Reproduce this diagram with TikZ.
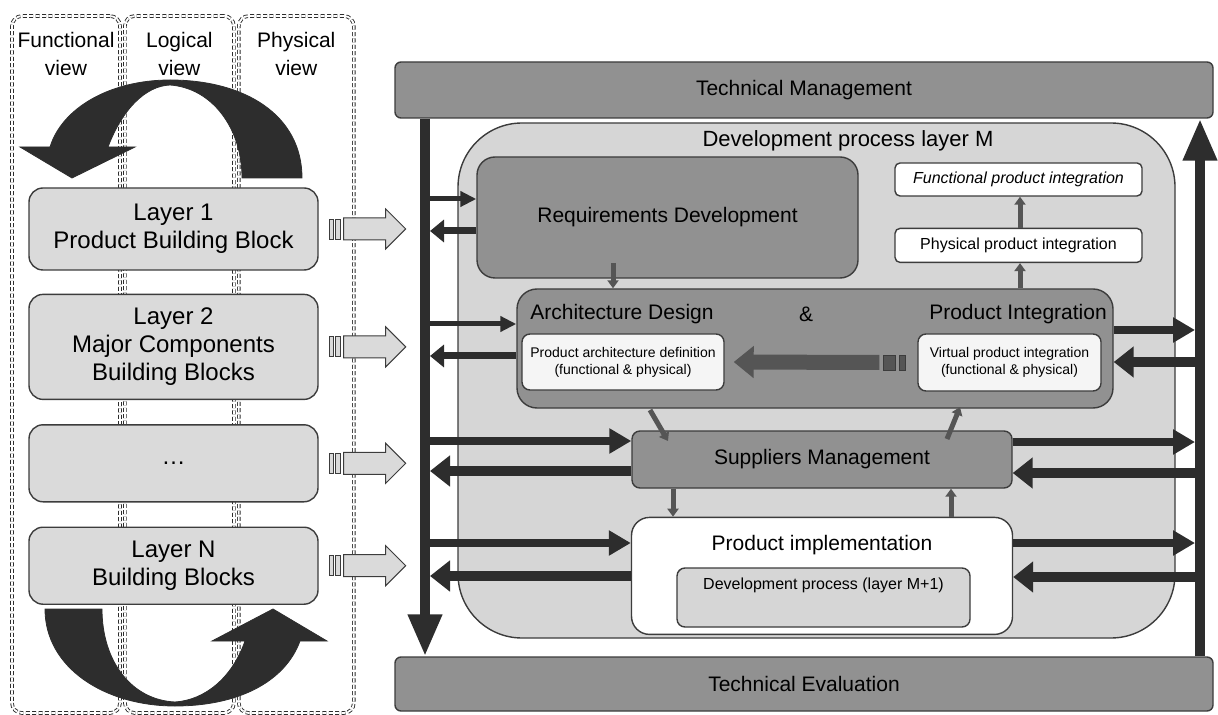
\documentclass[tikz,border=0pt]{standalone}
\usepackage{fontspec}
\setmainfont{Liberation Sans}
\usepackage{tikz}
\usetikzlibrary{arrows.meta}
\usetikzlibrary{positioning}
\definecolor{cbdark}{RGB}{45,45,45}
\definecolor{cbmid}{RGB}{85,85,85}
\definecolor{cbgray}{RGB}{145,145,145}
\definecolor{cbpanel}{RGB}{214,214,214}
\definecolor{cblight}{RGB}{218,218,218}
\definecolor{cbline}{RGB}{60,60,60}

\begin{document}
\begin{tikzpicture}[%
    x=0.5pt, y=-0.5pt,   % one unit is one pixel of the sketch, y goes down
    node distance=12pt,  % gap between the layer boxes
    ]
% -------------------------------------------------
% Box and arrow styles
\tikzset{
  base/.style={draw=cbline, line width=0.7pt, align=center, inner sep=0pt},
  mgmt/.style={base, fill=cbgray, rounded corners=3pt, minimum width=409pt, font=\fontsize{10.5}{12}\selectfont},
  procbox/.style={base, fill=cbgray, font=\fontsize{10.5}{12}\selectfont},
  whitebox/.style={base, fill=white, rounded corners=2.5pt, minimum width=123.5pt, font=\fontsize{8}{9.6}\selectfont},
  defbox/.style={base, fill=black!4, rounded corners=4pt, font=\fontsize{7}{8.6}\selectfont},
  layer/.style={base, fill=cblight, rounded corners=7pt, minimum width=144.5pt, font=\fontsize{12}{14}\selectfont},
  view/.style={draw=cbdark, line width=0.45pt, double=white, double distance=0.9pt, dash pattern=on 2pt off 1.2pt, rounded corners=5pt, minimum height=348.5pt, inner sep=0pt},
  txt/.style={draw=none, fill=none, align=center, inner sep=0pt},
  lbl/.style={txt, font=\fontsize{10.5}{12}\selectfont},
  % -------------------------------------------------
  shaft/.style={-{Triangle[length=21pt,width=16pt]}, line width=5pt, draw=cbdark},
  feed/.style={-{Triangle[length=11pt,width=12pt]}, line width=4pt, draw=cbdark},
  back/.style={-{Triangle[length=10pt,width=15pt]}, line width=5pt, draw=cbdark},
  feedsm/.style={-{Triangle[length=8pt,width=7.5pt]}, line width=2.5pt, draw=cbdark},
  backsm/.style={-{Triangle[length=7pt,width=11pt]}, line width=3.5pt, draw=cbdark},
  link/.style={-{Triangle[length=4pt,width=5.5pt]}, line width=2.5pt, draw=cbmid},
  bigarr/.style={-{Triangle[length=10pt,width=15.5pt]}, line width=7.5pt, draw=cbmid},
  lightarr/.style={draw=cbline, line width=0.5pt, fill=cblight},
  stripe/.style={draw=cbline, line width=0.4pt, fill=cblight},
  curl/.style={fill=cbdark, draw=cbdark, line width=0.4pt}
  }
\useasboundingbox (0,0) rectangle (1218,715);
% -------------------------------------------------
% The three views on the left
\node [view, minimum width=54pt] (fv) at (66,364.5) {};
\node [view, minimum width=54.5pt, right=2pt of fv] (lv) {};
\node [view, minimum width=57.5pt, right=2pt of lv] (pv) {};
\node [txt, font=\fontsize{10.5}{14}\selectfont, below=8pt of fv.north] (fvl) {Functional\\view};
\node [txt, font=\fontsize{10.5}{14}\selectfont, below=8pt of lv.north] (lvl) {Logical\\view};
\node [txt, font=\fontsize{10.5}{14}\selectfont, below=8pt of pv.north] (pvl) {Physical\\view};

% big curled arrows
\fill [curl] (302,178) .. controls (302,115) and (245,80) .. (170,80)
  .. controls (110,80) and (62,108) .. (50,147)
  -- (20,147) -- (72,178) -- (135,147) -- (108,147)
  .. controls (122,110) and (145,86) .. (170,85)
  .. controls (212,88) and (242,128) .. (242,178) -- cycle;
\fill [curl] (45,609) .. controls (45,668) and (105,706) .. (175,706)
  .. controls (238,706) and (285,682) .. (300,641)
  -- (327,641) -- (273,609) -- (212,641) -- (245,641)
  .. controls (232,678) and (205,700) .. (175,702)
  .. controls (132,700) and (102,662) .. (102,609) -- cycle;

% the layers
\node [layer, minimum height=41pt] (l1) at (173.5,229) {Layer 1\\Product Building Block};
\node [layer, minimum height=52.5pt, below=11.5pt of l1] (l2) {Layer 2\\Major Components\\Building Blocks};
\node [layer, minimum height=38.5pt, below=12pt of l2] (ld) {\dots};
\node [layer, minimum height=38.5pt, below=12pt of ld] (ln) {Layer N\\Building Blocks};

\foreach \l in {l1,l2,ld,ln}{
  \draw [lightarr] (\l.east) ++(25,-11) -- ++(42,0) -- ++(0,-9) -- ++(20,20)
    -- ++(-20,20) -- ++(0,-9) -- ++(-42,0) -- cycle;
  \draw [stripe] (\l.east) ++(11,-10) rectangle ++(4,20);
  \draw [stripe] (\l.east) ++(17,-10) rectangle ++(5,20);
}

% -------------------------------------------------
% Management and evaluation
\node [mgmt, minimum height=28pt] (tm) at (804,90) {Technical Management};
\node [mgmt, minimum height=27pt] (te) at (804,684) {Technical Evaluation};

\coordinate (lx) at (425,0);
\coordinate (rx) at (1200,0);
\coordinate (le) at (430,0);
\coordinate (re) at (1195,0);
\draw [shaft] (lx |- tm.south) -- (lx |- te.north);
\draw [shaft] (rx |- te.north) -- (rx |- tm.south);

% -------------------------------------------------
% Development process layer M
\node [base, fill=cbpanel, rounded corners=32pt, minimum width=358.5pt, minimum height=257.5pt] (dev) at (816.5,380.5) {};
\node [txt, font=\fontsize{11}{13}\selectfont] (devl) at (848,141) {Development process layer M};

\node [procbox, rounded corners=9pt, minimum width=190.5pt, minimum height=60.5pt] (req) at (667.5,217.5) {Requirements Development};
\node [procbox, rounded corners=10pt, minimum width=298pt, minimum height=59.5pt] (adpi) at (815,348.5) {};
\node [lbl] (adl) at (622,314) {Architecture Design};
\node [lbl] (amp) at (806,314) {\&};
\node [lbl] (pil) at (1018,314) {Product Integration};
\node [defbox, minimum width=101pt, minimum height=28pt] (pad) at (623,362) {Product architecture definition\\(functional \& physical)};
\node [defbox, minimum width=91.5pt, minimum height=28.5pt] (vpi) at (1009.5,362.5) {Virtual product integration\\(functional \& physical)};

\node [whitebox, minimum height=16.5pt, font=\fontsize{8}{9.6}\selectfont\itshape] (fpi) at (1018.5,179.5) {Functional product integration};
\node [whitebox, minimum height=17pt, below=15.5pt of fpi] (ppi) {Physical product integration};

\node [procbox, rounded corners=4pt, minimum width=190pt, minimum height=28.5pt] (sm) at (822,459.5) {Suppliers Management};
\node [base, fill=white, rounded corners=9pt, minimum width=190.5pt, minimum height=58.5pt, below=14pt of sm] (pim) {};
\node [lbl, below=9pt of pim.north] (piml) {Product implementation};
\node [base, fill=cbpanel, rounded corners=4pt, minimum width=146.5pt, minimum height=29.5pt] (dpm) at (823.5,597.5) {};
\node [txt, font=\fontsize{8}{9.6}\selectfont, below=5pt of dpm.north] (dpml) {Development process (layer M+1)};

% -------------------------------------------------
% links inside the layer
\coordinate (ra) at (613,263);
\draw [link] (ra) -- (ra |- adpi.north);
\coordinate (pa) at (1020,0);
\draw [link] (pa |- adpi.north) -- (pa |- ppi.south);
\draw [link] (pa |- ppi.north) -- (pa |- fpi.south);
\coordinate (da) at (650,410);
\coordinate (db) at (668,441);
\draw [link] (da) -- (db);
\coordinate (dc) at (947,439);
\coordinate (dd) at (960,407);
\draw [link] (dc) -- (dd);
\coordinate (sa) at (673,0);
\coordinate (sb) at (951,0);
\draw [link] (sa |- sm.south) -- (sa |- pim.north);
\draw [link] (sb |- pim.north) -- (sb |- sm.south);

\draw [bigarr] ([xshift=-19pt]vpi.west) -- ([xshift=4.5pt]pad.east);
\draw [draw=cbline, line width=0.4pt, fill=cbmid] ([xshift=-17pt,yshift=-3.75pt]vpi.west) rectangle ++(6pt,7.5pt);
\draw [draw=cbline, line width=0.4pt, fill=cbmid] ([xshift=-9pt,yshift=-3.75pt]vpi.west) rectangle ++(3pt,7.5pt);

% -------------------------------------------------
% to and from management / evaluation
\draw [feedsm] (le |- 0,199) -- (req.west |- 0,199);
\draw [backsm] (req.west |- 0,231) -- (le |- 0,231);
\draw [feedsm] (le |- 0,324) -- (adpi.west |- 0,324);
\draw [backsm] (adpi.west |- 0,356) -- (le |- 0,356);
\draw [feed] (le |- 0,441) -- (sm.west |- 0,441);
\draw [back] (sm.west |- 0,471) -- (le |- 0,471);
\draw [feed] (le |- 0,543) -- (pim.west |- 0,543);
\draw [back] (pim.west |- 0,576) -- (le |- 0,576);

\draw [feed] (adpi.east |- 0,330) -- (re |- 0,330);
\draw [back] (re |- 0,362) -- (adpi.east |- 0,362);
\draw [feed] (sm.east |- 0,442) -- (re |- 0,442);
\draw [back] (re |- 0,473) -- (sm.east |- 0,473);
\draw [feed] (pim.east |- 0,543) -- (re |- 0,543);
\draw [back] (re |- 0,577) -- (pim.east |- 0,577);
\end{tikzpicture}
\end{document}
